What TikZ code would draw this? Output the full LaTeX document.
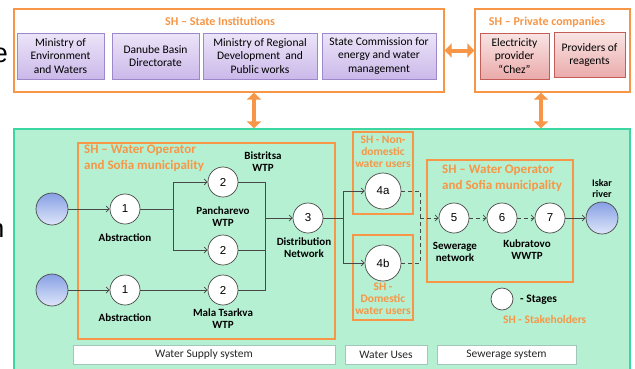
\documentclass[tikz,border=0pt]{standalone}
\usepackage{fontspec}
\setmainfont{Carlito}
\newfontfamily\arialf{Liberation Sans}
\usetikzlibrary{arrows.meta,shadows}

\definecolor{shorange}{RGB}{247,150,70}
\definecolor{greenfill}{RGB}{182,240,210}
\definecolor{greenedge}{RGB}{60,215,160}
\definecolor{purpTop}{RGB}{236,229,248}
\definecolor{purpBot}{RGB}{203,184,234}
\definecolor{purpEdge}{RGB}{158,136,204}
\definecolor{redTop}{RGB}{249,228,228}
\definecolor{redBot}{RGB}{234,170,170}
\definecolor{redEdge}{RGB}{196,92,88}
\definecolor{blueTop}{RGB}{135,160,228}
\definecolor{blueBot}{RGB}{222,230,249}
\definecolor{lineg}{RGB}{72,72,72}

\tikzset{
  frame/.style={draw=shorange, line width=1.3pt, inner sep=0pt},
  sttitle/.style={text=shorange, font=\bfseries\fontsize{12}{14}\selectfont, inner sep=0pt, align=left},
  optitle/.style={text=shorange, font=\bfseries\fontsize{13}{16}\selectfont, inner sep=0pt, align=left},
  usertitle/.style={text=shorange, font=\bfseries\fontsize{11.5}{11.8}\selectfont, align=center, inner sep=0pt},
  pbox/.style={draw=purpEdge, top color=purpTop, bottom color=purpBot, line width=0.6pt,
    align=center, inner sep=1pt, font=\fontsize{11.5}{13.6}\selectfont,
    drop shadow={shadow xshift=0.8pt, shadow yshift=-0.8pt, opacity=0.25}},
  rbox/.style={pbox, draw=redEdge, top color=redTop, bottom color=redBot},
  stage/.style={circle, draw=lineg, line width=0.7pt, fill=white, minimum size=30pt,
    inner sep=0pt, font=\arialf\fontsize{11.5}{12}\selectfont},
  water/.style={circle, draw=lineg, line width=0.7pt, top color=blueTop, bottom color=blueBot,
    minimum size=32pt, inner sep=0pt},
  lbl/.style={font=\bfseries\fontsize{11}{12}\selectfont, align=center, inner sep=0pt},
  flow/.style={draw=lineg, line width=0.8pt, -{Straight Barb[length=3pt,width=6pt]}},
  link/.style={draw=lineg, line width=0.8pt},
  dflow/.style={flow, dash pattern=on 4pt off 3pt},
  dlink/.style={link, dash pattern=on 4pt off 3pt},
  dbl/.style={draw=shorange, line width=4pt,
    {Triangle[length=7pt,width=14pt]}-{Triangle[length=7pt,width=14pt]}},
  bar/.style={draw=greenedge!40!gray!60, fill=white, line width=0.5pt, inner sep=0pt,
    text=black!85, font=\fontsize{11.5}{12}\selectfont, minimum height=19pt,
    drop shadow={shadow xshift=0.8pt, shadow yshift=-0.8pt, opacity=0.2}}
}

\begin{document}
\begin{tikzpicture}[x=1pt, y=-1pt]
\useasboundingbox (0,0) rectangle (635,368);
\fill[white] (0,0) rectangle (635,368);

% text fragments at the left margin
\node[anchor=base east, inner sep=0pt, font=\arialf\fontsize{27}{30}\selectfont] (fragE) at (8,62) {e};
\node[anchor=base east, inner sep=0pt, font=\arialf\fontsize{26}{30}\selectfont] (fragN) at (4.5,237) {n};

% ---- stakeholder groups at the top
\node[frame, minimum width=430pt, minimum height=83pt] (state) at (229,50.5) {};
\node[sttitle] (stateT) at (220,21) {SH -- State Institutions};
\node[pbox, minimum width=87pt, minimum height=46pt] (mew) at (60.5,56) {Ministry of\\Environment\\and Waters};
\node[pbox, minimum width=87pt, minimum height=46pt] (dbd) at (155.5,56) {Danube Basin\\Directorate};
\node[pbox, minimum width=114pt, minimum height=46pt] (mrd) at (260,56) {Ministry of Regional\\Development\ \ and\\Public works};
\node[pbox, minimum width=114pt, minimum height=46pt] (sce) at (379,56) {State Commission for\\energy and water\\management};

\node[frame, minimum width=155pt, minimum height=83pt] (priv) at (552.5,50.5) {};
\node[sttitle] (privT) at (547,22) {SH -- Private companies};
\node[rbox, minimum width=69pt, minimum height=46pt] (chez) at (514.5,56) {Electricity\\provider\\``Chez''};
\node[rbox, minimum width=71pt, minimum height=45pt] (reag) at (589.5,55) {Providers of\\reagents};

% ---- main water system area
\node[draw=greenedge, fill=greenfill, line width=1.3pt, minimum width=616pt, minimum height=250pt, inner sep=0pt] (green) at (322,254) {};

\draw[dbl] (state.east) -- (priv.west);
\draw[dbl] ([xshift=25pt]state.south) -- ([xshift=25pt]state.south |- green.north);
\draw[dbl] ([xshift=-11.5pt]priv.south) -- ([xshift=-11.5pt]priv.south |- green.north);

% stakeholder frames inside
\node[frame, minimum width=257pt, minimum height=196pt] (opA) at (206.5,241) {};
\node[optitle, anchor=north west] (opAT) at (84,145) {SH -- Water Operator\\and Sofia municipality};
\node[frame, minimum width=60pt, minimum height=82pt] (ndu) at (383,173) {};
\node[usertitle] (nduT) at (383,152) {SH - Non-\\domestic\\water users};
\node[frame, minimum width=60pt, minimum height=85pt] (du) at (383,277.5) {};
\node[usertitle] (duT) at (383,299) {SH -\\Domestic\\water users};
\node[frame, minimum width=146pt, minimum height=122pt] (opB) at (500,221) {};
\node[optitle, anchor=north west] (opBT) at (442,165) {SH -- Water Operator\\and Sofia municipality};

% stages
\node[water] (src1) at (52,209) {};
\node[water] (src2) at (52,290) {};
\node[stage] (s1a) at (125,209) {1};
\node[stage] (s1b) at (125,290) {1};
\node[stage] (s2a) at (223,182) {2};
\node[stage] (s2b) at (223,250) {2};
\node[stage] (s2c) at (223,290) {2};
\node[stage] (s3) at (308,218) {3};
\node[stage, minimum size=36pt] (s4a) at (383,191) {4a};
\node[stage, minimum size=36pt] (s4b) at (383,263) {4b};
\node[stage] (s5) at (454,218) {5};
\node[stage] (s6) at (502,218) {6};
\node[stage] (s7) at (550,218) {7};
\node[water] (isk) at (602,218) {};

% stage labels
\node[lbl] (l1a) at (125,238) {Abstraction};
\node[lbl] (l1b) at (125,318) {Abstraction};
\node[lbl] (l2a) at (263,162) {Bistritsa\\WTP};
\node[lbl] (l2b) at (223,217) {Pancharevo\\WTP};
\node[lbl] (l2c) at (223,319) {Mala Tsarkva\\WTP};
\node[lbl] (l3) at (304,247.5) {Distribution\\Network};
\node[lbl] (l5) at (455,251.5) {Sewerage\\network};
\node[lbl] (l6) at (527,250) {Kubratovo\\WWTP};
\node[lbl, font=\bfseries\fontsize{10}{11.5}\selectfont] (lisk) at (602,188.5) {Iskar\\river};

% junction points
\coordinate (j1) at (173,209);
\coordinate (j2) at (265,218);
\coordinate (j3) at (343,218);
\coordinate (j4) at (420,218);

% connectors
\draw[flow] (src1) -- (s1a);
\draw[flow] (src2) -- (s1b);
\draw[link] (s1a) -- (j1);
\draw[flow] (j1) |- (s2a);
\draw[flow] (j1) |- (s2b);
\draw[flow] (s1b) -- (s2c);
\draw[link] (s2a) -| (j2);
\draw[link] (s2b) -| (j2);
\draw[link] (s2c) -| (j2);
\draw[flow] (j2) -- (s3);
\draw[link] (s3) -- (j3);
\draw[flow] (j3) |- (s4a);
\draw[flow] (j3) |- (s4b);
\draw[dlink] (s4a) -| (j4);
\draw[dlink] (s4b) -| (j4);
\draw[dflow] (j4) -- (s5);
\draw[dflow] (s5) -- (s6);
\draw[dflow] (s6) -- (s7);
\draw[flow] (s7) -- (isk);

% legend
\node[stage, minimum size=22pt] (leg) at (502,299) {};
\node[anchor=west, font=\bfseries\fontsize{11.5}{12}\selectfont, inner sep=0pt] (legT) at (520,300) {- Stages};
\node[anchor=west, text=shorange, font=\bfseries\fontsize{11.5}{12}\selectfont, inner sep=0pt] (legS) at (503,319.5) {SH - Stakeholders};

% system bars
\node[bar, minimum width=262pt] (bws) at (204,354.5) {Water Supply system};
\node[bar, minimum width=82pt] (bwu) at (386,354.5) {Water Uses};
\node[bar, minimum width=139pt] (bss) at (506.5,354.5) {Sewerage system};
\end{tikzpicture}
\end{document}
